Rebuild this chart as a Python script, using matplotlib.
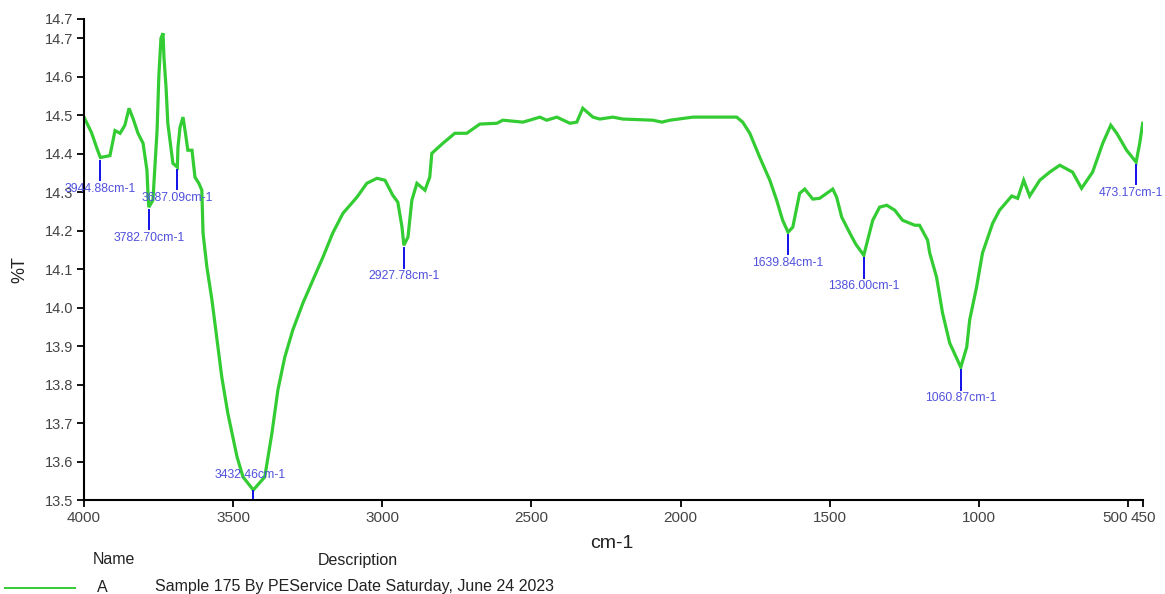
import numpy as np
import matplotlib
matplotlib.use("Agg")
import matplotlib.pyplot as plt
from matplotlib.lines import Line2D

plt.rcParams['font.family'] = ['Liberation Sans', 'DejaVu Sans']

# FTIR spectrum: wavenumber (cm-1) and transmittance (%T)
wavenumber = [
    4000, 3975, 3955, 3944.88, 3913, 3896, 3879, 3863, 3849, 3835, 3819, 3802,
    3789, 3785, 3782.70, 3769, 3755, 3749, 3742, 3735, 3732, 3725, 3719, 3702,
    3687.09, 3685, 3678, 3668, 3658, 3652, 3638, 3628, 3615, 3605, 3601, 3588,
    3571, 3554, 3538, 3518, 3487, 3467, 3432.46, 3394, 3370, 3350, 3327, 3300,
    3266, 3233, 3199, 3166, 3132, 3085, 3052, 3018, 2991, 2965, 2948, 2934,
    2927.78, 2914, 2901, 2884, 2857, 2841, 2834, 2797, 2757, 2717, 2673, 2616,
    2596, 2529, 2506, 2472, 2449, 2415, 2371, 2348, 2328, 2294, 2271, 2227,
    2194, 2093, 2063, 2036, 1959, 1812, 1792, 1768, 1735, 1701, 1678, 1658,
    1639.84, 1624, 1601, 1584, 1557, 1534, 1490, 1477, 1460, 1433, 1413,
    1386.00, 1356, 1333, 1309, 1282, 1256, 1215, 1199, 1172, 1165, 1142, 1122,
    1098, 1060.87, 1041, 1031, 1008, 988, 954, 931, 890, 870, 850, 830, 796,
    763, 729, 686, 656, 619, 585, 558, 538, 505, 473.17, 461, 451,
]
transmittance = [
    14.495, 14.455, 14.410, 14.390, 14.395, 14.460, 14.453, 14.474, 14.518,
    14.490, 14.453, 14.427, 14.357, 14.287, 14.261, 14.279, 14.461, 14.604,
    14.700, 14.713, 14.651, 14.573, 14.479, 14.375, 14.365, 14.417, 14.469,
    14.495, 14.443, 14.409, 14.409, 14.339, 14.323, 14.305, 14.194, 14.105,
    14.019, 13.916, 13.819, 13.726, 13.612, 13.560, 13.526, 13.560, 13.674,
    13.786, 13.871, 13.942, 14.012, 14.071, 14.131, 14.194, 14.245, 14.287,
    14.323, 14.336, 14.331, 14.292, 14.274, 14.209, 14.162, 14.183, 14.279,
    14.323, 14.305, 14.339, 14.401, 14.427, 14.453, 14.453, 14.477, 14.479,
    14.487, 14.482, 14.487, 14.495, 14.487, 14.495, 14.479, 14.482, 14.518,
    14.495, 14.490, 14.495, 14.490, 14.487, 14.482, 14.487, 14.495, 14.495,
    14.482, 14.453, 14.391, 14.331, 14.279, 14.227, 14.196, 14.209, 14.297,
    14.308, 14.282, 14.284, 14.308, 14.287, 14.235, 14.194, 14.165, 14.136,
    14.227, 14.261, 14.266, 14.253, 14.227, 14.214, 14.214, 14.175, 14.142,
    14.079, 13.986, 13.908, 13.845, 13.897, 13.968, 14.053, 14.142, 14.219,
    14.253, 14.290, 14.284, 14.331, 14.290, 14.331, 14.352, 14.370, 14.352,
    14.310, 14.352, 14.427, 14.474, 14.453, 14.409, 14.378, 14.427, 14.479,
]

# Labelled absorption bands
peak_wn = [3944.88, 3782.70, 3687.09, 3432.46, 2927.78, 1639.84, 1386.00, 1060.87, 473.17]

x_ticks = [4000, 3500, 3000, 2500, 2000, 1500, 1000, 500, 450]
x_tick_labels = ['4000', '3500', '3000', '2500', '2000', '1500', '1000', '500', '450']
y_ticks = [13.5, 13.6, 13.7, 13.8, 13.9, 14.0, 14.1, 14.2, 14.3, 14.4, 14.5, 14.6, 14.7, 14.75]
y_tick_labels = ['13.5', '13.6', '13.7', '13.8', '13.9', '14.0', '14.1', '14.2',
                 '14.3', '14.4', '14.5', '14.6', '14.7', '14.7']

sample_name = 'A'
sample_desc = 'Sample 175 By PEService Date Saturday, June 24 2023'

W, H = 1165, 594
fig = plt.figure(figsize=(W / 100, H / 100), dpi=100)
ax = fig.add_axes([84 / W, 94 / H, (1143 - 84) / W, 481 / H])

green = '#33cc33'
ax.plot(wavenumber, transmittance, color=green, lw=2.3, solid_joinstyle='miter')

ax.set_xlim(4000, 450)
ax.set_ylim(13.5, 14.75)

ax.set_xticks(x_ticks)
ax.set_xticklabels(x_tick_labels)
ax.set_yticks(y_ticks)
ax.set_yticklabels(y_tick_labels)
ax.tick_params(axis='y', labelsize=10.5)
ax.tick_params(axis='x', labelsize=11)
ax.tick_params(axis='both', direction='out', length=5, width=1.3, color='black',
               labelcolor='#444444', pad=3)

# The two closely spaced ticks at the right end sit side by side
xlabels = ax.get_xticklabels()
xlabels[-2].set_horizontalalignment('right')
xlabels[-1].set_horizontalalignment('center')

for side in ('top', 'right'):
    ax.spines[side].set_visible(False)
for side in ('left', 'bottom'):
    ax.spines[side].set_linewidth(1.5)

# Peak markers: blue tick below each band minimum with its wavenumber
wn_inc = np.array(wavenumber[::-1])
t_inc = np.array(transmittance[::-1])
mark_blue = '#1010e8'
text_blue = '#5050dd'
for wn in peak_wn:
    t = float(np.interp(wn, wn_inc, t_inc))
    label = f'{wn:.2f}cm-1'
    if t - 0.07 < 13.5:
        ax.plot([wn, wn], [t - 0.002, t - 0.02], color=mark_blue, lw=1.4, clip_on=False)
        ax.text(wn + 12, t + 0.04, label, ha='center', va='center', fontsize=8.8,
                color=text_blue, clip_on=False)
    else:
        ax.plot([wn, wn], [t - 0.008, t - 0.058], color=mark_blue, lw=1.4, clip_on=False)
        # keep the right-most label inside the figure edge
        text_x = wn + 18 if wn < 600 else wn
        ax.text(text_x, t - 0.065, label, ha='center', va='top', fontsize=8.8,
                color=text_blue, clip_on=False)

fig.text(20 / W, 1 - 270 / H, '%T', rotation=90, ha='center', va='center',
         fontsize=13, color='#222222')
fig.text(612 / W, 1 - 543 / H, 'cm-1', ha='center', va='center',
         fontsize=14, color='#222222')

# Sample table beneath the plot
fig.text(93 / W, 1 - 560 / H, 'Name', ha='left', va='center', fontsize=11.5, color='#222222')
fig.text(318 / W, 1 - 560 / H, 'Description', ha='left', va='center', fontsize=11.5, color='#222222')
fig.add_artist(Line2D([5 / W, 75 / W], [1 - 588 / H, 1 - 588 / H], color=green, lw=1.4))
fig.text(97 / W, 1 - 587 / H, sample_name, ha='left', va='center', fontsize=11.5, color='#222222')
fig.text(155 / W, 1 - 587 / H, sample_desc, ha='left', va='center', fontsize=11.5, color='#222222')

fig.savefig('out.png', dpi=100)
